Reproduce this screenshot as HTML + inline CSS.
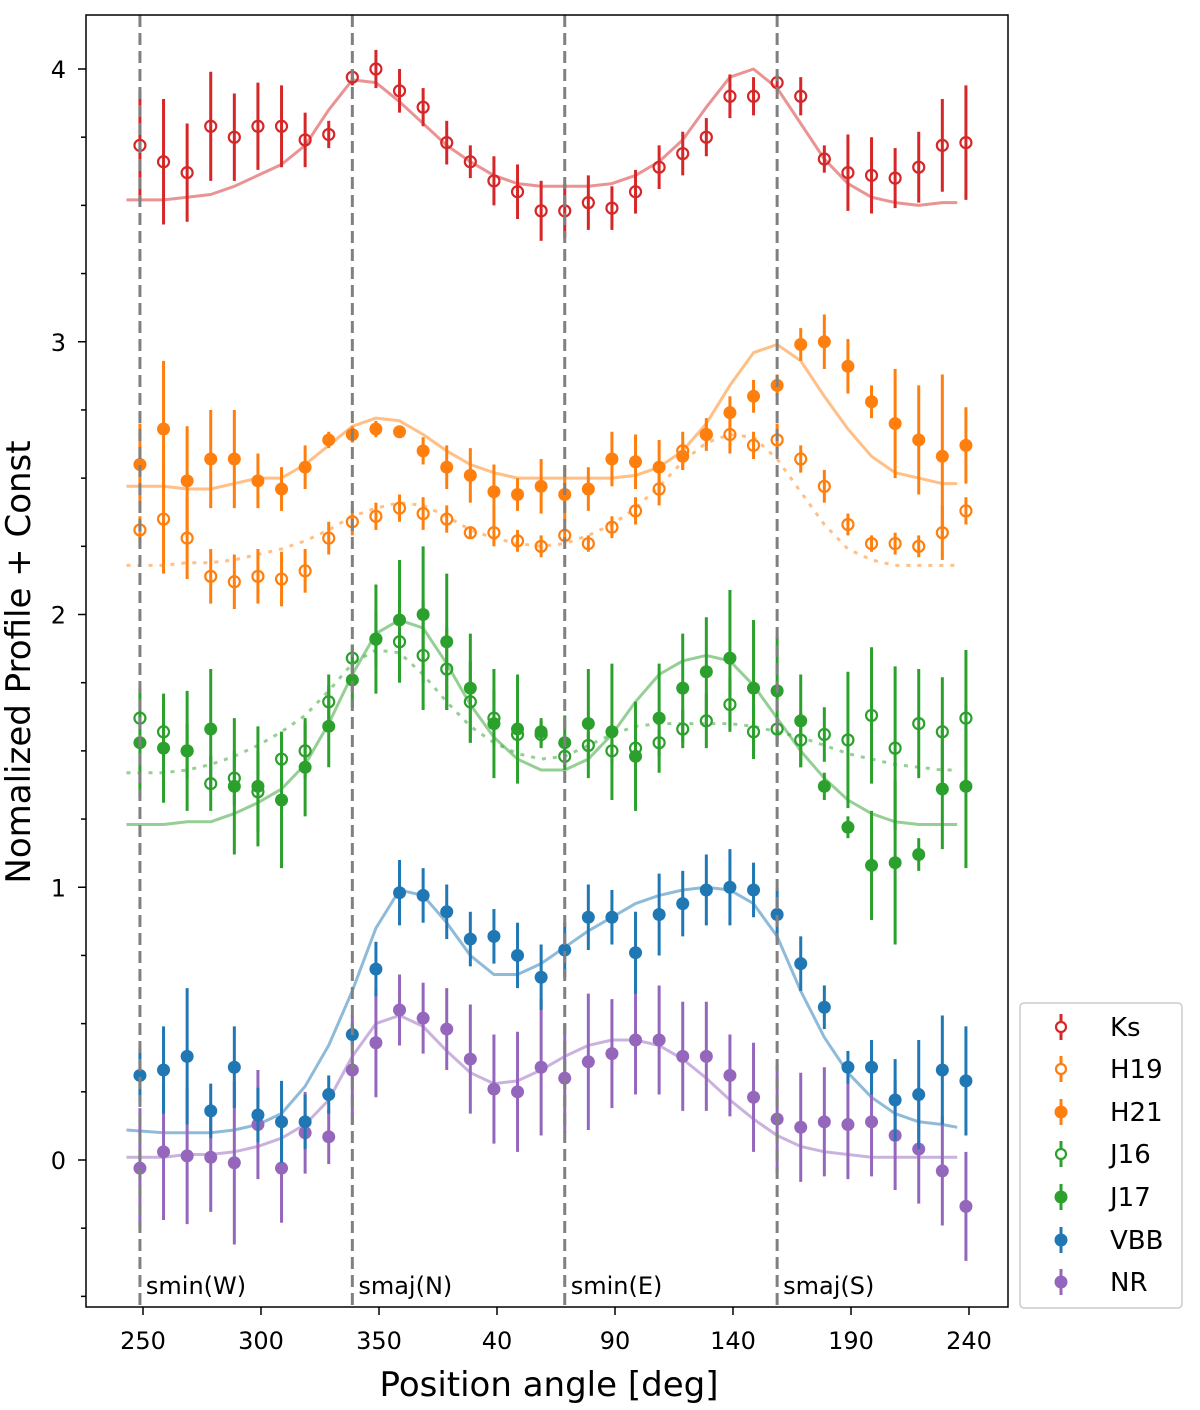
<!DOCTYPE html>
<html><head><meta charset="utf-8"><style>
body{margin:0;background:#fff;}
svg text{font-family:"DejaVu Sans","Liberation Sans",sans-serif;}
</style></head><body>
<svg id="chart" width="1200" height="1405" xmlns="http://www.w3.org/2000/svg">
<g id="plot"></g>
</svg>
<script>
const pointAngles=[248.7,258.7,268.7,278.7,288.7,298.7,308.7,318.7,328.7,338.7,348.7,358.7,368.7,378.7,388.7,398.7,408.7,418.7,428.7,438.7,448.7,458.7,468.7,478.7,488.7,498.7,508.7,518.7,528.7,538.7,548.7,558.7,568.7,578.7,588.7,598.7];
const modelAngles=[243,258.7,268.7,278.7,288.7,298.7,308.7,318.7,328.7,338.7,348.7,358.7,368.7,378.7,388.7,398.7,408.7,418.7,428.7,438.7,448.7,458.7,468.7,478.7,488.7,498.7,508.7,518.7,528.7,538.7,548.7,558.7,568.7,578.7,588.7,595];
const xTickValues=[250,300,350,400,450,500,550,600];
const xTickLabels=["250","300","350","40","90","140","190","240"];
const yTickValues=[0,1,2,3,4];
const regionAngles=[248.7,338.7,428.7,518.7];
const regionLabels=["smin(W)","smaj(N)","smin(E)","smaj(S)"];

const ksVals=[3.72,3.66,3.62,3.79,3.75,3.79,3.79,3.74,3.76,3.97,4.0,3.92,3.86,3.73,3.66,3.59,3.55,3.48,3.48,3.51,3.49,3.55,3.64,3.69,3.75,3.9,3.9,3.95,3.9,3.67,3.62,3.61,3.6,3.64,3.72,3.73];
const ksErr=[0.2,0.23,0.18,0.2,0.16,0.16,0.15,0.1,0.05,0.03,0.07,0.08,0.07,0.08,0.06,0.09,0.1,0.11,0.1,0.1,0.08,0.08,0.08,0.08,0.07,0.08,0.07,0.03,0.07,0.05,0.14,0.14,0.11,0.13,0.17,0.21];
const ksModel=[3.52,3.52,3.53,3.54,3.57,3.61,3.65,3.72,3.85,3.96,3.95,3.88,3.8,3.72,3.66,3.61,3.58,3.57,3.57,3.57,3.58,3.61,3.66,3.74,3.86,3.97,4.0,3.93,3.8,3.67,3.58,3.53,3.51,3.5,3.51,3.51];

const h19Vals=[2.31,2.35,2.28,2.14,2.12,2.14,2.13,2.16,2.28,2.34,2.36,2.39,2.37,2.35,2.3,2.3,2.27,2.25,2.29,2.26,2.32,2.38,2.46,2.6,2.66,2.66,2.62,2.64,2.57,2.47,2.33,2.26,2.26,2.25,2.3,2.38];
const h19Err=[0.05,0.2,0.15,0.1,0.1,0.1,0.1,0.08,0.06,0.05,0.05,0.05,0.06,0.05,0.02,0.05,0.04,0.04,0.03,0.03,0.04,0.05,0.06,0.07,0.06,0.07,0.05,0.06,0.05,0.06,0.04,0.03,0.04,0.04,0.1,0.05];
const h19Model=[2.18,2.18,2.19,2.19,2.2,2.22,2.24,2.27,2.31,2.36,2.39,2.41,2.4,2.36,2.31,2.28,2.26,2.25,2.26,2.29,2.33,2.39,2.47,2.56,2.63,2.66,2.65,2.57,2.45,2.33,2.24,2.2,2.18,2.18,2.18,2.18];

const h21Vals=[2.55,2.68,2.49,2.57,2.57,2.49,2.46,2.54,2.64,2.66,2.68,2.67,2.6,2.54,2.51,2.45,2.44,2.47,2.44,2.46,2.57,2.56,2.54,2.58,2.66,2.74,2.8,2.84,2.99,3.0,2.91,2.78,2.7,2.64,2.58,2.62];
const h21Err=[0.15,0.25,0.2,0.18,0.18,0.1,0.08,0.08,0.03,0.03,0.03,0.02,0.05,0.08,0.1,0.1,0.06,0.1,0.1,0.08,0.1,0.1,0.1,0.05,0.04,0.06,0.06,0.04,0.06,0.1,0.1,0.06,0.2,0.2,0.3,0.14];
const h21Model=[2.47,2.47,2.46,2.46,2.48,2.5,2.5,2.55,2.62,2.69,2.72,2.71,2.66,2.6,2.55,2.52,2.5,2.5,2.5,2.5,2.5,2.51,2.54,2.6,2.7,2.84,2.96,2.99,2.93,2.8,2.68,2.58,2.52,2.5,2.48,2.48];

const j16Vals=[1.62,1.57,1.5,1.38,1.4,1.35,1.47,1.5,1.68,1.84,1.91,1.9,1.85,1.8,1.68,1.62,1.56,1.56,1.48,1.52,1.5,1.51,1.53,1.58,1.61,1.67,1.57,1.58,1.54,1.56,1.54,1.63,1.51,1.6,1.57,1.62];
const j16Err=[0.03,0.1,0.1,0.1,0.1,0.15,0.1,0.1,0.1,0.05,0.1,0.15,0.2,0.15,0.15,0.1,0.05,0.05,0.04,0.05,0.05,0.05,0.05,0.07,0.1,0.1,0.1,0.05,0.1,0.1,0.25,0.25,0.3,0.2,0.2,0.25];
const j16Model=[1.42,1.42,1.43,1.45,1.48,1.52,1.57,1.63,1.72,1.82,1.87,1.86,1.78,1.68,1.59,1.53,1.49,1.47,1.48,1.52,1.56,1.59,1.6,1.6,1.6,1.6,1.59,1.57,1.55,1.52,1.49,1.47,1.45,1.44,1.43,1.43];

const j17Vals=[1.53,1.51,1.5,1.58,1.37,1.37,1.32,1.44,1.59,1.76,1.91,1.98,2.0,1.9,1.73,1.6,1.58,1.57,1.53,1.6,1.57,1.48,1.62,1.73,1.79,1.84,1.73,1.72,1.61,1.37,1.22,1.08,1.09,1.12,1.36,1.37];
const j17Err=[0.2,0.2,0.22,0.22,0.25,0.22,0.25,0.18,0.15,0.1,0.2,0.22,0.25,0.25,0.2,0.2,0.2,0.05,0.1,0.2,0.25,0.2,0.2,0.2,0.2,0.25,0.25,0.2,0.17,0.05,0.04,0.2,0.3,0.06,0.22,0.3];
const j17Model=[1.23,1.23,1.24,1.24,1.27,1.31,1.36,1.45,1.6,1.78,1.93,1.98,1.95,1.82,1.67,1.55,1.47,1.43,1.43,1.47,1.56,1.68,1.78,1.83,1.85,1.83,1.74,1.62,1.5,1.4,1.32,1.27,1.24,1.23,1.23,1.23];

const vbbVals=[0.31,0.33,0.38,0.18,0.34,0.165,0.14,0.14,0.24,0.46,0.7,0.98,0.97,0.91,0.81,0.82,0.75,0.67,0.77,0.89,0.89,0.76,0.9,0.94,0.99,1.0,0.99,0.9,0.72,0.56,0.34,0.34,0.22,0.24,0.33,0.29];
const vbbErr=[0.1,0.16,0.25,0.1,0.15,0.1,0.15,0.1,0.07,0.04,0.1,0.12,0.1,0.1,0.1,0.1,0.12,0.12,0.1,0.12,0.1,0.15,0.15,0.12,0.13,0.14,0.1,0.1,0.1,0.08,0.06,0.1,0.15,0.2,0.2,0.2];
const vbbModel=[0.11,0.1,0.1,0.1,0.11,0.13,0.17,0.27,0.42,0.62,0.85,0.99,0.97,0.87,0.75,0.68,0.68,0.72,0.78,0.84,0.89,0.94,0.97,0.99,1.0,0.99,0.94,0.82,0.62,0.45,0.32,0.23,0.17,0.14,0.13,0.12];

const nrVals=[-0.03,0.03,0.015,0.01,-0.01,0.13,-0.03,0.1,0.085,0.33,0.43,0.55,0.52,0.48,0.37,0.26,0.25,0.34,0.3,0.36,0.39,0.44,0.44,0.38,0.38,0.31,0.23,0.15,0.12,0.14,0.13,0.14,0.09,0.04,-0.04,-0.17];
const nrErr=[0.22,0.25,0.25,0.2,0.3,0.2,0.2,0.15,0.1,0.2,0.2,0.13,0.13,0.15,0.2,0.2,0.22,0.25,0.2,0.25,0.2,0.2,0.2,0.2,0.2,0.15,0.2,0.2,0.2,0.2,0.2,0.2,0.2,0.2,0.2,0.2];
const nrModel=[0.01,0.01,0.02,0.02,0.03,0.05,0.08,0.13,0.22,0.38,0.5,0.53,0.49,0.4,0.32,0.28,0.29,0.33,0.38,0.42,0.44,0.44,0.42,0.37,0.3,0.22,0.15,0.09,0.05,0.03,0.02,0.01,0.01,0.01,0.01,0.01];

const NS="http://www.w3.org/2000/svg";
const L=86,R=1008,T=15,B=1307;
function xs(a){return 143+(a-250)*2.36;}
function ys(v){return 1160-v*272.75;}
const g=document.getElementById('plot');
function mk(tag,attrs,parent){const e=document.createElementNS(NS,tag);for(const k in attrs)e.setAttribute(k,attrs[k]);(parent||g).appendChild(e);return e;}

function drawModel(vals,color,dotted,name){
  const pts=vals.map((v,i)=>xs(modelAngles[i]).toFixed(1)+','+ys(v).toFixed(1)).join(' ');
  const p=mk('polyline',{points:pts,fill:'none',stroke:color,'stroke-opacity':0.5,'stroke-width':3,'stroke-dasharray':dotted?'4,7':'none','stroke-linejoin':'round'});
  
  
}
drawModel(ksModel,'#d62728',false,'ks-model-line');
drawModel(h21Model,'#ff7f0e',false,'h21-model-line');
drawModel(h19Model,'#ff7f0e',true,'h19-model-line');
drawModel(j17Model,'#2ca02c',false,'j17-model-line');
drawModel(j16Model,'#2ca02c',true,'j16-model-line');
drawModel(vbbModel,'#1f77b4',false,'vbb-model-line');
drawModel(nrModel,'#9467bd',false,'nr-model-line');

function drawSeries(vals,errs,color,open,name){
  const grp=mk('g',{});
  
  
  vals.forEach((v,i)=>{
    const x=xs(pointAngles[i]);
    const eb=mk('line',{x1:x,x2:x,y1:ys(v-errs[i]),y2:ys(v+errs[i]),stroke:color,'stroke-width':3},grp);
    
    
    const c=open?mk('circle',{cx:x,cy:ys(v),r:5.5,fill:'#fff','fill-opacity':0,stroke:color,'stroke-width':2.2},grp):mk('circle',{cx:x,cy:ys(v),r:6.5,fill:color},grp);
    
    
  });
}
drawSeries(nrVals,nrErr,'#9467bd',false,'nr');
drawSeries(vbbVals,vbbErr,'#1f77b4',false,'vbb');
drawSeries(j17Vals,j17Err,'#2ca02c',false,'j17');
drawSeries(j16Vals,j16Err,'#2ca02c',true,'j16');
drawSeries(h21Vals,h21Err,'#ff7f0e',false,'h21');
drawSeries(h19Vals,h19Err,'#ff7f0e',true,'h19');
drawSeries(ksVals,ksErr,'#d62728',true,'ks');

regionAngles.forEach((a,i)=>{
  const x=xs(a);
  const l=mk('line',{x1:x,x2:x,y1:T,y2:B,stroke:'#808080','stroke-width':3,'stroke-dasharray':'12,6'});
  
  
  const t=mk('text',{x:x+6,y:1294,'font-size':24,fill:'#000'});
  t.textContent=regionLabels[i];
  
  
});

const fr=mk('rect',{x:L,y:T,width:R-L,height:B-T,fill:'none',stroke:'#000','stroke-width':1.5});



xTickValues.forEach((a,i)=>{
  const x=xs(a);
  mk('line',{x1:x,x2:x,y1:B,y2:B+8,stroke:'#000','stroke-width':1.5});
  const t=mk('text',{x:x,y:B+42,'font-size':24,'text-anchor':'middle'});
  t.textContent=xTickLabels[i];
  
  
});
for(let v=-0.5;v<=4.01;v+=0.25){
  const y=ys(v);
  const major=Math.abs(v-Math.round(v))<0.01;
  mk('line',{x1:L-(major?8:5),x2:L,y1:y,y2:y,stroke:'#000','stroke-width':1.5});
}
yTickValues.forEach(v=>{
  const t=mk('text',{x:66,y:ys(v)+9,'font-size':24,'text-anchor':'end'});
  t.textContent=String(v);
  
  
});
</script>
<svg style="position:absolute;left:0;top:0" width="1200" height="1405" xmlns="http://www.w3.org/2000/svg">
<text x="549" y="1396" font-size="34" text-anchor="middle" style="font-family:'DejaVu Sans',sans-serif">Position angle [deg]</text>
<text transform="translate(30,662) rotate(-90)" font-size="34" text-anchor="middle" style="font-family:'DejaVu Sans',sans-serif">Nomalized Profile + Const</text>
<g style="font-family:'DejaVu Sans',sans-serif" font-size="26">
<rect x="1020" y="1003" width="162" height="305" rx="4" fill="#fff" stroke="#ccc" stroke-width="1.5"/>
<g><line x1="1061" x2="1061" y1="1014" y2="1040" stroke="#d62728" stroke-width="3"/><circle cx="1061" cy="1027" r="5" fill="#fff" stroke="#d62728" stroke-width="2.2"/><text x="1110" y="1036">Ks</text></g>
<g><line x1="1061" x2="1061" y1="1056" y2="1082" stroke="#ff7f0e" stroke-width="3"/><circle cx="1061" cy="1069" r="5" fill="#fff" stroke="#ff7f0e" stroke-width="2.2"/><text x="1110" y="1078">H19</text></g>
<g><line x1="1061" x2="1061" y1="1099" y2="1125" stroke="#ff7f0e" stroke-width="3"/><circle cx="1061" cy="1112" r="6.5" fill="#ff7f0e"/><text x="1110" y="1121">H21</text></g>
<g><line x1="1061" x2="1061" y1="1141" y2="1167" stroke="#2ca02c" stroke-width="3"/><circle cx="1061" cy="1154" r="5" fill="#fff" stroke="#2ca02c" stroke-width="2.2"/><text x="1110" y="1163">J16</text></g>
<g><line x1="1061" x2="1061" y1="1184" y2="1210" stroke="#2ca02c" stroke-width="3"/><circle cx="1061" cy="1197" r="6.5" fill="#2ca02c"/><text x="1110" y="1206">J17</text></g>
<g><line x1="1061" x2="1061" y1="1227" y2="1253" stroke="#1f77b4" stroke-width="3"/><circle cx="1061" cy="1240" r="6.5" fill="#1f77b4"/><text x="1110" y="1249">VBB</text></g>
<g><line x1="1061" x2="1061" y1="1269" y2="1295" stroke="#9467bd" stroke-width="3"/><circle cx="1061" cy="1282" r="6.5" fill="#9467bd"/><text x="1110" y="1291">NR</text></g>
</g>
</svg>
</body></html>
